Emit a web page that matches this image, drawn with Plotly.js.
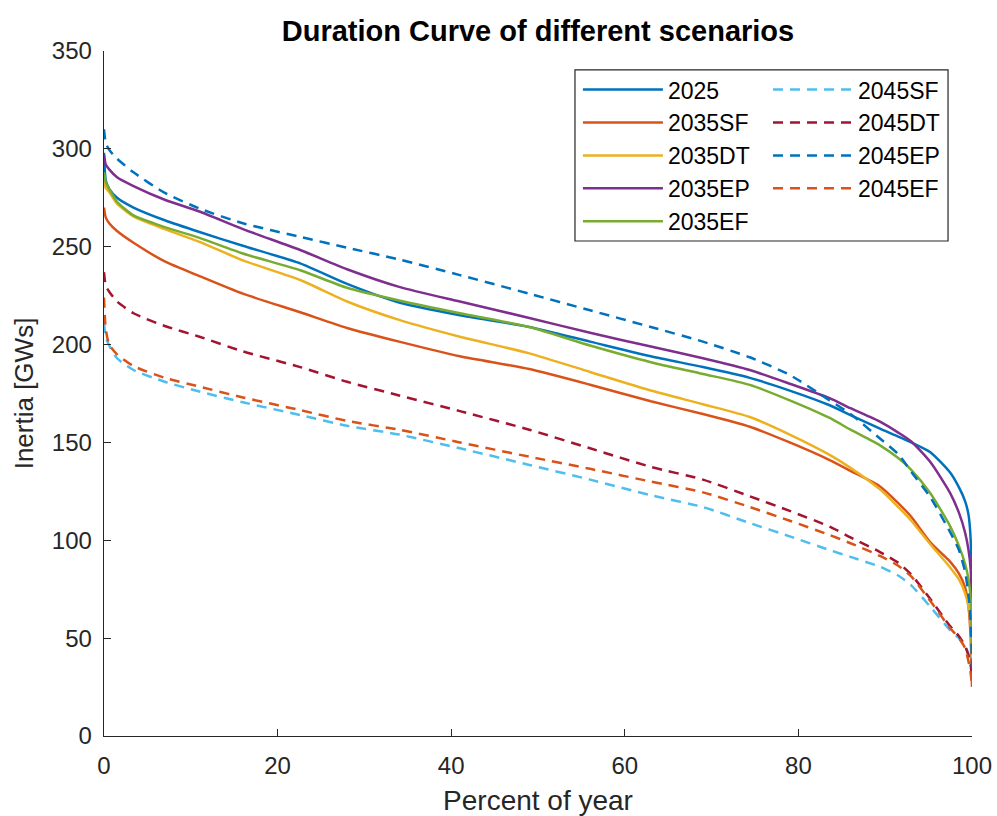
<!DOCTYPE html>
<html>
<head>
<meta charset="utf-8">
<script src="https://cdn.plot.ly/plotly-3.0.1.min.js"></script>
<style>html,body{margin:0;padding:0;background:#fff;}#chart{width:997px;height:816px;}</style>
</head>
<body>
<div id="chart"></div>
<script>
// Percent of year (x positions at which the curves were read)
const pct = [0, 0.2, 0.6, 1.5, 3.4, 7, 11, 16, 22.6, 28, 34, 41, 49, 56, 63, 69, 74.4, 79, 83.6, 86, 89.4, 91.5, 93, 95.2, 97.5, 98.5, 99.2, 99.6, 99.85, 100];

// Inertia [GWs] per scenario
const s2025   = [298, 284, 279.5, 275, 270, 263.5, 257.5, 250.5, 241.5, 231, 221.5, 215, 209, 201.5, 194, 188.5, 183, 176.5, 169, 164, 157, 153, 150, 145, 134.5, 127, 120, 113, 100, 55];
const s2035SF = [270, 265, 262, 258, 252, 242.5, 235, 226, 216.5, 208.5, 201.5, 194, 187.5, 179.5, 171, 164.5, 158, 150, 141, 135.5, 127.5, 119, 112, 99, 89, 83, 76, 66, 50, 25];
const s2035DT = [284, 280, 278, 272, 265.5, 259, 252.5, 243, 233, 222, 212.6, 204, 195.5, 186, 176.5, 169.5, 163, 154, 143.6, 137, 126, 117, 110, 98, 86, 80, 73, 66, 57, 40];
const s2035EP = [297, 292, 289.5, 285.5, 281, 274, 268, 259, 248.3, 238.5, 229.5, 222, 213.6, 206, 199, 193, 187, 180, 172.6, 167.5, 160.6, 155, 150.5, 140, 124, 114, 104, 95, 85, 60];
const s2035EF = [288, 283, 279.5, 273, 266, 260, 254.5, 246.5, 238, 229, 222.5, 216, 209, 199.5, 191, 185, 179.4, 171.5, 162.5, 156.5, 148.5, 142, 136, 124, 107, 97, 88, 80, 70, 45];
const s2045SF = [211, 204, 199.5, 193, 187, 181, 176, 170.5, 164, 158.5, 154, 147, 138.5, 131, 123, 117, 108.8, 102, 95, 91.5, 86.5, 82, 77, 66, 54, 50, 46, 42, 38, 35];
const s2045DT = [237, 230, 227, 222, 216, 209.5, 204, 196.5, 188.5, 181, 174, 166, 156.5, 147, 137.5, 131, 122.5, 115, 107, 101.5, 94, 88.5, 82.5, 70, 56, 51, 46, 41, 36, 30];
const s2045EP = [310, 303, 299.5, 295, 288, 277.5, 269.5, 262, 255, 249.5, 243.5, 235.5, 226, 217.5, 209, 201.5, 193.5, 184.5, 171.5, 164.5, 152, 144, 135, 122, 104, 95, 84, 72, 58, 35];
const s2045EF = [224, 208, 200, 195, 189, 183, 178.5, 173, 166.5, 161, 156.5, 150, 142.7, 136.5, 130, 124.5, 117, 110, 102.7, 98.5, 92, 87, 81.5, 69, 55, 50, 45, 38, 32, 25];

const names = ['2025', '2035SF', '2035DT', '2035EP', '2035EF', '2045SF', '2045DT', '2045EP', '2045EF'];
const series = [s2025, s2035SF, s2035DT, s2035EP, s2035EF, s2045SF, s2045DT, s2045EP, s2045EF];
const colors = ['#0072BD', '#D95319', '#EDB120', '#7E2F8E', '#77AC30', '#4DBEEE', '#A2142F', '#0072BD', '#D95319'];
const dashes = ['solid', 'solid', 'solid', 'solid', 'solid', '10px,7px', '10px,7px', '10px,7px', '10px,7px'];
const legendOf = ['legend', 'legend', 'legend', 'legend', 'legend', 'legend2', 'legend2', 'legend2', 'legend2'];

const FONT = 'Liberation Sans, Arial, Helvetica, sans-serif';
const INK = '#262626';

const traces = series.map((ys, i) => ({
  type: 'scatter',
  mode: 'lines',
  x: pct,
  y: ys,
  name: names[i],
  legend: legendOf[i],
  legendgroup: 'g' + i,
  line: {color: colors[i], width: 2.5, dash: dashes[i], shape: 'spline', smoothing: 0.6},
  hoverinfo: 'skip'
}));

const legendCommon = {
  xanchor: 'left', yanchor: 'top',
  bgcolor: 'rgba(0,0,0,0)', borderwidth: 0,
  font: {family: FONT, size: 23, color: '#000'},
  itemwidth: 80, tracegroupgap: 5, traceorder: 'normal'
};

const layout = {
  width: 997, height: 816,
  margin: {l: 104, r: 25, t: 51, b: 80, pad: 0},
  paper_bgcolor: '#fff', plot_bgcolor: '#fff',
  showlegend: true,
  title: {
    text: 'Duration Curve of different scenarios',
    x: 0.5, xref: 'paper', xanchor: 'center',
    y: 1 - 31 / 816, yref: 'container', yanchor: 'middle',
    font: {family: FONT, size: 29, color: '#000', weight: 'bold'}
  },
  xaxis: {
    range: [0, 100], tickvals: [0, 20, 40, 60, 80, 100],
    ticks: 'inside', ticklen: 7, tickwidth: 1.2, tickcolor: INK,
    showline: true, linecolor: INK, linewidth: 1.3, mirror: false,
    showgrid: false, zeroline: false,
    tickfont: {family: FONT, size: 24, color: INK},
    ticklabelstandoff: 8,
    title: {text: 'Percent of year', font: {family: FONT, size: 28, color: INK}, standoff: 16},
    automargin: false
  },
  yaxis: {
    range: [0, 350], tickvals: [0, 50, 100, 150, 200, 250, 300, 350],
    ticks: 'inside', ticklen: 7, tickwidth: 1.2, tickcolor: INK,
    showline: true, linecolor: INK, linewidth: 1.3, mirror: false,
    showgrid: false, zeroline: false,
    tickfont: {family: FONT, size: 24, color: INK},
    ticklabelstandoff: 6,
    title: {text: 'Inertia [GWs]', font: {family: FONT, size: 26, color: INK}, standoff: 10},
    automargin: false
  },
  legend: Object.assign({}, legendCommon, {x: 0.546, y: 0.975}),
  legend2: Object.assign({}, legendCommon, {x: 0.765, y: 0.975}),
  shapes: [{
    type: 'rect', xref: 'paper', yref: 'paper',
    x0: 0.5426, x1: 0.9724, y0: 0.7226, y1: 0.9723,
    line: {color: INK, width: 1.2}, fillcolor: 'rgba(255,255,255,1)', layer: 'below'
  }]
};

Plotly.newPlot('chart', traces, layout, {displayModeBar: false, staticPlot: true});
</script>
</body>
</html>
